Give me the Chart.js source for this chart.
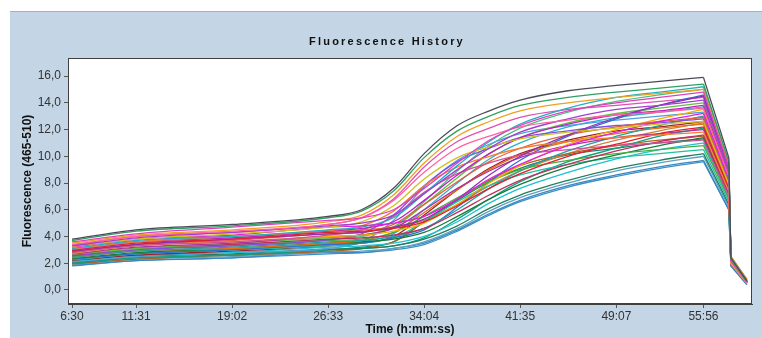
<!DOCTYPE html>
<html>
<head>
<meta charset="utf-8">
<script src="https://cdn.jsdelivr.net/npm/chart.js@4"></script>
<style>
  body { margin: 0; background: #fff; }
  canvas { display: block; }
</style>
</head>
<body>
<canvas id="myChart" width="762" height="338"></canvas>
<script>
// time of each reading, in seconds
const times = [390, 691, 1142, 1593, 1750, 1900, 2044, 2200, 2350, 2495, 2720, 2947, 3150, 3356, 3475, 3485, 3560];
// index of the last reading before the melt (peak)
const peakIndex = 13;

// x axis ticks (seconds) and their labels
const tickTimes = [390, 691, 1142, 1593, 2044, 2495, 2947, 3356];
const tickLabels = ['6:30', '11:31', '19:02', '26:33', '34:04', '41:35', '49:07', '55:56'];

// y axis ticks
const yTicks = [0, 2, 4, 6, 8, 10, 12, 14, 16];

// fluorescence of each well, one row per well
const wells = [
  [3.8, 4.5, 4.9, 5.5, 6.0, 7.6, 10.2, 12.3, 13.4, 14.2, 14.9, 15.3, 15.6, 15.9, 9.9, 2.4, 0.7],
  [3.7, 4.4, 4.8, 5.4, 5.9, 7.4, 9.9, 11.9, 13.0, 13.8, 14.4, 14.8, 15.1, 15.4, 9.6, 2.3, 0.6],
  [3.6, 4.2, 4.7, 5.2, 5.4, 6.0, 7.6, 9.5, 11.2, 12.3, 13.4, 14.0, 14.4, 14.8, 9.2, 2.2, 0.6],
  [3.5, 4.1, 4.5, 5.1, 5.6, 7.1, 9.5, 11.5, 12.6, 13.4, 14.0, 14.4, 14.7, 15.0, 9.4, 2.5, 0.8],
  [3.4, 4.0, 4.4, 4.9, 5.4, 6.7, 8.8, 10.6, 11.5, 12.2, 12.7, 13.1, 13.3, 13.6, 8.5, 2.1, 0.5],
  [3.3, 3.9, 4.3, 4.8, 5.0, 5.6, 7.2, 9.0, 10.6, 11.8, 12.8, 13.5, 13.8, 14.2, 8.9, 2.3, 0.6],
  [3.25, 3.8, 4.2, 4.7, 5.1, 6.3, 8.3, 9.9, 10.7, 11.3, 11.8, 12.1, 12.4, 12.6, 7.9, 2.0, 0.5],
  [3.2, 3.8, 4.1, 4.7, 4.8, 5.0, 5.5, 6.8, 8.3, 9.4, 10.8, 11.8, 12.6, 13.2, 8.3, 2.2, 0.7],
  [3.1, 3.7, 4.0, 4.5, 4.7, 5.4, 7.2, 9.3, 11.1, 12.4, 13.6, 14.4, 14.8, 15.2, 9.5, 2.4, 0.7],
  [3.05, 3.6, 4.0, 4.45, 4.8, 5.9, 7.8, 9.2, 10.0, 10.6, 11.1, 11.4, 11.6, 11.8, 7.4, 2.0, 0.5],
  [3.0, 3.6, 3.9, 4.4, 4.6, 5.1, 6.7, 8.6, 10.2, 11.4, 12.4, 13.1, 13.4, 13.8, 8.6, 2.3, 0.6],
  [2.95, 3.5, 3.8, 4.3, 4.4, 4.6, 5.1, 6.3, 7.6, 8.7, 10.0, 10.9, 11.7, 12.2, 7.6, 2.1, 0.6],
  [2.9, 3.4, 3.8, 4.2, 4.3, 4.7, 5.3, 6.8, 8.6, 10.0, 11.6, 12.9, 13.8, 14.5, 9.1, 2.4, 0.7],
  [2.85, 3.4, 3.7, 4.2, 4.3, 4.9, 6.4, 8.1, 9.6, 10.6, 11.6, 12.2, 12.6, 12.9, 8.0, 2.2, 0.5],
  [2.8, 3.3, 3.6, 4.1, 4.5, 5.5, 7.3, 8.7, 9.5, 10.1, 10.5, 10.8, 11.0, 11.2, 7.0, 1.9, 0.5],
  [2.75, 3.3, 3.6, 4.0, 4.1, 4.4, 5.0, 6.4, 8.0, 9.3, 10.9, 12.0, 12.8, 13.5, 8.4, 2.3, 0.6],
  [2.7, 3.2, 3.5, 4.0, 4.1, 4.6, 6.0, 7.6, 8.9, 9.9, 10.8, 11.4, 11.7, 12.0, 7.5, 2.1, 0.6],
  [2.65, 3.1, 3.5, 3.9, 4.1, 4.7, 6.4, 8.4, 10.2, 11.4, 12.5, 13.2, 13.6, 14.0, 8.8, 2.4, 0.7],
  [2.6, 3.1, 3.4, 3.8, 3.9, 4.1, 4.6, 5.8, 7.1, 8.2, 9.4, 10.4, 11.1, 11.6, 7.2, 2.0, 0.5],
  [2.55, 3.0, 3.3, 3.75, 4.2, 5.6, 7.8, 9.6, 10.6, 11.4, 11.9, 12.3, 12.5, 12.8, 8.0, 2.2, 0.6],
  [2.5, 3.0, 3.3, 3.7, 3.8, 4.3, 5.5, 6.9, 8.1, 9.0, 9.7, 10.2, 10.5, 10.8, 6.8, 2.0, 0.5],
  [2.45, 2.9, 3.2, 3.6, 3.7, 4.0, 4.6, 6.0, 7.6, 8.9, 10.4, 11.5, 12.3, 13.0, 8.1, 2.3, 0.6],
  [2.4, 2.9, 3.1, 3.5, 3.7, 4.3, 5.8, 7.5, 9.0, 10.1, 11.1, 11.7, 12.1, 12.4, 7.8, 2.2, 0.6],
  [2.35, 2.8, 3.1, 3.5, 3.6, 3.8, 4.3, 5.5, 6.8, 7.9, 9.2, 10.1, 10.8, 11.4, 7.1, 2.0, 0.5],
  [2.3, 2.7, 3.0, 3.4, 3.5, 3.9, 4.5, 6.2, 8.1, 9.7, 11.5, 12.8, 13.8, 14.6, 9.0, 2.5, 0.8],
  [2.25, 2.7, 3.0, 3.3, 3.5, 3.9, 5.1, 6.6, 7.8, 8.6, 9.4, 9.9, 10.2, 10.5, 6.6, 2.0, 0.5],
  [2.2, 2.6, 2.9, 3.3, 3.5, 4.0, 5.6, 7.5, 9.1, 10.2, 11.2, 11.9, 12.2, 12.6, 7.9, 2.2, 0.6],
  [2.15, 2.6, 2.8, 3.2, 3.3, 3.5, 4.0, 5.1, 6.5, 7.6, 8.8, 9.8, 10.5, 11.0, 6.9, 1.9, 0.5],
  [2.1, 2.5, 2.8, 3.1, 3.6, 5.2, 7.7, 9.7, 10.9, 11.7, 12.3, 12.7, 13.0, 13.3, 8.4, 2.3, 0.7],
  [2.05, 2.5, 2.7, 3.05, 3.1, 3.3, 3.8, 4.8, 6.1, 7.1, 8.2, 9.1, 9.7, 10.2, 6.4, 1.9, 0.5],
  [2.0, 2.4, 2.6, 3.0, 3.1, 3.3, 3.9, 5.3, 6.8, 8.1, 9.6, 10.6, 11.5, 12.1, 7.6, 2.1, 0.6],
  [1.95, 2.3, 2.6, 2.9, 3.1, 3.6, 5.1, 6.8, 8.2, 9.3, 10.2, 10.8, 11.2, 11.5, 7.2, 2.1, 0.6],
  [1.9, 2.3, 2.5, 2.85, 2.9, 3.1, 3.6, 4.6, 5.9, 6.9, 8.0, 8.9, 9.5, 10.0, 6.2, 1.9, 0.5],
  [1.85, 2.2, 2.4, 2.8, 2.8, 3.1, 3.5, 4.5, 5.7, 6.7, 7.8, 8.6, 9.2, 9.7, 6.0, 1.8, 0.4],
  [1.8, 2.2, 2.4, 2.7, 2.8, 3.0, 3.4, 4.4, 5.6, 6.6, 7.7, 8.5, 9.1, 9.6, 6.0, 1.8, 0.4],
  [3.35, 4.0, 4.3, 4.9, 5.4, 6.8, 9.2, 11.1, 12.1, 12.9, 13.5, 13.8, 14.1, 14.4, 9.0, 2.3, 0.6],
  [2.6, 3.1, 3.4, 3.8, 4.0, 4.7, 6.6, 8.9, 10.8, 12.1, 13.3, 14.1, 14.6, 15.0, 9.3, 2.5, 0.7],
  [3.0, 3.6, 3.9, 4.4, 4.5, 4.7, 5.2, 6.4, 7.8, 8.9, 10.2, 11.2, 11.9, 12.5, 7.8, 2.1, 0.6],
  [2.3, 2.7, 3.0, 3.4, 3.6, 4.2, 6.0, 8.0, 9.8, 11.0, 12.2, 12.9, 13.3, 13.7, 8.5, 2.4, 0.7],
  [2.0, 2.4, 2.6, 3.0, 3.2, 3.6, 5.1, 6.7, 8.1, 9.1, 10.1, 10.6, 11.0, 11.3, 7.0, 2.0, 0.5]
];

// one colour per well
const colors = [
  '#4a4a5a', '#30a060', '#e040c0', '#f0a020', '#ff60a0', '#a040d0', '#d0c020', '#e020e0',
  '#20b0c0', '#f08030', '#c020c0', '#e02030', '#9030b0', '#e06040', '#d050a0', '#f0b000',
  '#b030a0', '#60c040', '#c03060', '#8050e0', '#40b040', '#20a0a0', '#e07010', '#1a7a3a',
  '#3070d0', '#20c0a0', '#a02030', '#20c0d0', '#50a0e0', '#208060', '#10a080', '#b06020',
  '#60a0c0', '#3888c0', '#3a90c8', '#e050b0', '#50c080', '#d08040', '#30b0d0', '#208070'
];

// each well is drawn as a smooth amplification part and a straight melt part
const datasets = [];
wells.forEach((row, i) => {
  const pts = row.map((v, j) => ({ x: times[j], y: v }));
  datasets.push({
    label: 'Well ' + (i + 1),
    data: pts.slice(0, peakIndex + 1),
    borderColor: colors[i % colors.length],
    borderWidth: 1.3,
    pointRadius: 0,
    fill: false,
    cubicInterpolationMode: 'monotone'
  });
  datasets.push({
    label: 'Well ' + (i + 1) + ' melt',
    data: pts.slice(peakIndex),
    borderColor: colors[i % colors.length],
    borderWidth: 1.3,
    pointRadius: 0,
    fill: false,
    tension: 0
  });
});

// blue frame, white plot area and the spaced-out title
const framePlugin = {
  id: 'frame',
  beforeDraw(chart) {
    const ctx = chart.ctx;
    const a = chart.chartArea;
    ctx.save();
    ctx.fillStyle = '#ffffff';
    ctx.fillRect(0, 0, chart.width, chart.height);
    ctx.fillStyle = '#c4d6e6';
    ctx.fillRect(10, 11, chart.width - 10, chart.height - 11);
    ctx.strokeStyle = '#9fb0c0';
    ctx.beginPath();
    ctx.moveTo(10, 11.5);
    ctx.lineTo(chart.width, 11.5);
    ctx.stroke();
    ctx.fillStyle = '#ffffff';
    ctx.fillRect(a.left, a.top, a.right - a.left, a.bottom - a.top);
    ctx.restore();
  },
  afterDraw(chart) {
    const ctx = chart.ctx;
    const a = chart.chartArea;
    ctx.save();
    ctx.strokeStyle = '#404040';
    ctx.lineWidth = 1;
    ctx.strokeRect(a.left + 0.5, a.top + 0.5, a.right - a.left - 1, a.bottom - a.top - 1);
    ctx.font = 'bold 11px "Liberation Sans", Arial, sans-serif';
    ctx.letterSpacing = '2.2px';
    ctx.fillStyle = '#111';
    ctx.textBaseline = 'middle';
    const text = 'Fluorescence History';
    const w = ctx.measureText(text).width;
    ctx.fillText(text, 387 - w / 2, 42);
    ctx.restore();
  }
};

const ctx = document.getElementById('myChart').getContext('2d');
const myChart = new Chart(ctx, {
  type: 'line',
  data: { datasets: datasets },
  plugins: [framePlugin],
  options: {
    responsive: false,
    animation: false,
    devicePixelRatio: 1,
    layout: { padding: { left: 10, right: 10, top: 58, bottom: 0 } },
    plugins: {
      legend: { display: false },
      tooltip: { enabled: false }
    },
    scales: {
      x: {
        type: 'linear',
        min: 371,
        max: 3584,
        afterFit: (s) => { s.height = 34; },
        afterBuildTicks: (s) => { s.ticks = tickTimes.map(v => ({ value: v })); },
        ticks: {
          autoSkip: false,
          maxRotation: 0,
          padding: 1,
          color: '#333',
          font: { family: '"Liberation Sans", Arial, sans-serif', size: 12 },
          callback: (v) => tickLabels[tickTimes.indexOf(v)]
        },
        grid: { drawOnChartArea: false, drawTicks: true, tickLength: 4, color: '#555' },
        border: { display: true, color: '#404040' },
        title: {
          display: true,
          text: 'Time (h:mm:ss)',
          color: '#111',
          padding: { top: 0, bottom: 1 },
          font: { family: '"Liberation Sans", Arial, sans-serif', size: 12, weight: 'bold' }
        }
      },
      y: {
        min: -1.05,
        max: 17.35,
        afterFit: (s) => { s.width = 58; },
        afterBuildTicks: (s) => { s.ticks = yTicks.map(v => ({ value: v })); },
        ticks: {
          padding: 3,
          color: '#333',
          font: { family: '"Liberation Sans", Arial, sans-serif', size: 12 },
          callback: (v) => v.toFixed(1).replace('.', ',')
        },
        grid: { drawOnChartArea: false, drawTicks: true, tickLength: 4, color: '#555' },
        border: { display: true, color: '#404040' },
        title: {
          display: true,
          text: 'Fluorescence (465-510)',
          color: '#111',
          padding: { top: 10, bottom: 0 },
          font: { family: '"Liberation Sans", Arial, sans-serif', size: 12, weight: 'bold' }
        }
      }
    }
  }
});
</script>
</body>
</html>
